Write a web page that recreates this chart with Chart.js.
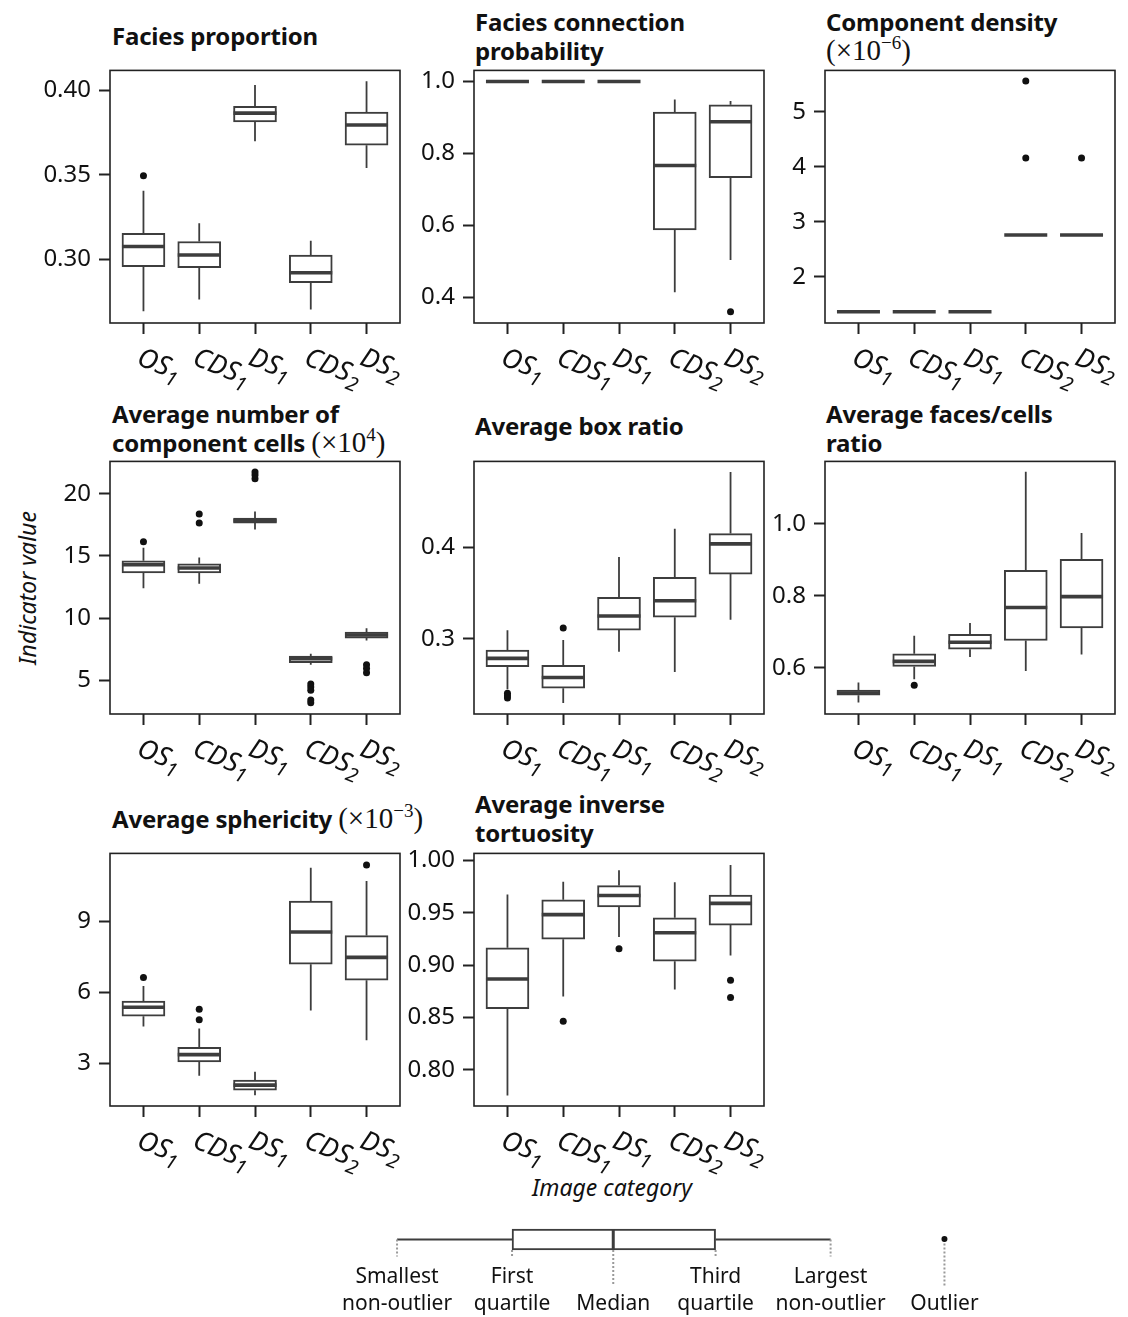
<!DOCTYPE html>
<html>
<head>
<meta charset="utf-8">
<script src="https://cdn.jsdelivr.net/npm/chart.js@4.4.0/dist/chart.umd.min.js"></script>
<style>
  body { margin: 0; width: 1128px; height: 1317px; background: #fff; position: relative; overflow: hidden; font-family: 'Noto Sans', sans-serif; color: #111; }
  canvas { position: absolute; }
  .title { position: absolute; font-family: 'Noto Sans', sans-serif; font-weight: bold; font-size: 24px; line-height: 28.5px; color: #111; white-space: nowrap; letter-spacing: -0.2px; }
  .m { font-family: 'Liberation Serif', serif; font-weight: normal; font-size: 29px; line-height: 0; letter-spacing: 0; }
  .m sup { font-size: 19px; line-height: 0; vertical-align: 11px; }
  .axis-label { position: absolute; font-style: italic; font-size: 23px; white-space: nowrap; }
</style>
</head>
<body>

<div class="title" style="left:112px;top:21.5px">Facies proportion</div>
<div class="title" style="left:475px;top:8px">Facies connection<br>probability</div>
<div class="title" style="left:826px;top:8px">Component density<br><span class="m">(×10<sup>−6</sup>)</span></div>
<div class="title" style="left:112px;top:400px">Average number of<br>component cells <span class="m">(×10<sup>4</sup>)</span></div>
<div class="title" style="left:475px;top:411.5px">Average box ratio</div>
<div class="title" style="left:826px;top:400px">Average faces/cells<br>ratio</div>
<div class="title" style="left:112px;top:805px">Average sphericity <span class="m">(×10<sup>−3</sup>)</span></div>
<div class="title" style="left:475px;top:790px">Average inverse<br>tortuosity</div>

<div class="axis-label" style="left:27px;top:588px;transform:translate(-50%,-50%) rotate(-90deg)">Indicator value</div>
<div class="axis-label" style="left:612px;top:1187px;transform:translate(-50%,-50%)">Image category</div>

<script>
// categories, last character is drawn as a subscript
const categories = ['OS1', 'CDS1', 'DS1', 'CDS2', 'DS2'];

// box statistics: whisker ends, quartiles, median, outliers
const faciesProportion = {
  low:    [0.269, 0.276, 0.370, 0.270, 0.354],
  q1:     [0.2955, 0.2949, 0.3814, 0.2859, 0.3676],
  median: [0.3074, 0.3024, 0.3866, 0.2918, 0.3796],
  q3:     [0.3153, 0.3104, 0.3906, 0.3024, 0.3872],
  high:   [0.3406, 0.3212, 0.4033, 0.3108, 0.4055],
  outliers: [[0.3494], [], [], [], []]
};
const faciesConnection = {
  low:    [1, 1, 1, 0.413, 0.503],
  q1:     [1, 1, 1, 0.587, 0.732],
  median: [1, 1, 1, 0.766, 0.888],
  q3:     [1, 1, 1, 0.915, 0.935],
  high:   [1, 1, 1, 0.950, 0.946],
  outliers: [[], [], [], [], [0.359]]
};
const componentDensity = {
  low:    [1.365, 1.365, 1.365, 2.76, 2.76],
  q1:     [1.365, 1.365, 1.365, 2.76, 2.76],
  median: [1.365, 1.365, 1.365, 2.76, 2.76],
  q3:     [1.365, 1.365, 1.365, 2.76, 2.76],
  high:   [1.365, 1.365, 1.365, 2.76, 2.76],
  outliers: [[], [], [], [5.558, 4.16], [4.16]]
};
const componentCells = {
  low:    [12.4, 12.75, 17.12, 6.24, 8.2],
  q1:     [13.63, 13.63, 17.64, 6.4, 8.39],
  median: [14.29, 14.02, 17.83, 6.72, 8.63],
  q3:     [14.6, 14.37, 18.04, 6.93, 8.87],
  high:   [15.66, 14.87, 18.57, 7.12, 9.18],
  outliers: [[16.13], [17.64, 18.36], [21.2, 21.5, 21.75], [4.7, 4.45, 4.2, 3.4, 3.18], [6.25, 5.95, 5.6]]
};
const boxRatio = {
  low:    [0.245, 0.230, 0.286, 0.264, 0.321],
  q1:     [0.2698, 0.2461, 0.3097, 0.3237, 0.3709],
  median: [0.2788, 0.2579, 0.3251, 0.3417, 0.4039],
  q3:     [0.2878, 0.2712, 0.3456, 0.3672, 0.4151],
  high:   [0.3094, 0.2989, 0.3895, 0.4205, 0.4823],
  outliers: [[0.2407, 0.238, 0.2356], [0.3119], [], [], []]
};
const facesCells = {
  low:    [0.504, 0.568, 0.630, 0.591, 0.637],
  q1:     [0.524, 0.604, 0.652, 0.676, 0.711],
  median: [0.530, 0.618, 0.671, 0.768, 0.798],
  q3:     [0.538, 0.639, 0.693, 0.871, 0.902],
  high:   [0.559, 0.689, 0.725, 1.145, 0.975],
  outliers: [[], [0.5514], [], [], []]
};
const sphericity = {
  low:    [4.55, 2.47, 1.64, 5.22, 3.97],
  q1:     [4.98, 3.05, 1.86, 7.18, 6.5],
  median: [5.36, 3.36, 2.07, 8.54, 7.47],
  q3:     [5.62, 3.67, 2.28, 9.85, 8.39],
  high:   [6.26, 4.46, 2.64, 11.25, 10.69],
  outliers: [[6.62], [5.28, 4.83], [], [], [11.37]]
};
const inverseTortuosity = {
  low:    [0.7755, 0.8701, 0.927, 0.8767, 0.9094],
  q1:     [0.8585, 0.9248, 0.9557, 0.9038, 0.9384],
  median: [0.8868, 0.9484, 0.9667, 0.9311, 0.9591],
  q3:     [0.9167, 0.9626, 0.9761, 0.9453, 0.967],
  high:   [0.9676, 0.9799, 0.9909, 0.9792, 0.9959],
  outliers: [[], [0.8465], [0.9158], [], [0.8856, 0.8692]]
};

// y tick labels per panel
const propTicks = ['0.30', '0.35', '0.40'];
const connTicks = ['0.4', '0.6', '0.8', '1.0'];
const densTicks = ['2', '3', '4', '5'];
const cellTicks = ['5', '10', '15', '20'];
const boxTicks = ['0.3', '0.4'];
const facesTicks = ['0.6', '0.8', '1.0'];
const spherTicks = ['3', '6', '9'];
const tortTicks = ['0.80', '0.85', '0.90', '0.95', '1.00'];

// legend example box
const legendStats = [1, 2, 2.88, 3.77, 4.77, 5.76]; // low, q1, median, q3, high, outlier
const legendLabels = [['Smallest', 'non-outlier'], ['First', 'quartile'], ['', 'Median'], ['Third', 'quartile'], ['Largest', 'non-outlier'], ['', 'Outlier']];

const boxColor = '#3d3d3d';
const axisColor = '#222';
const colLeft = [110, 474, 825];
const rowTop = [68, 459, 851];

const panels = [
  { stats: faciesProportion, ticks: propTicks, range: [0.262, 0.412], col: 0, row: 0 },
  { stats: faciesConnection, ticks: connTicks, range: [0.3276, 1.031], col: 1, row: 0 },
  { stats: componentDensity, ticks: densTicks, range: [1.162, 5.75], col: 2, row: 0 },
  { stats: componentCells, ticks: cellTicks, range: [2.28, 22.6], col: 0, row: 1 },
  { stats: boxRatio, ticks: boxTicks, range: [0.218, 0.494], col: 1, row: 1 },
  { stats: facesCells, ticks: facesTicks, range: [0.4717, 1.174], col: 2, row: 1 },
  { stats: sphericity, ticks: spherTicks, range: [1.19, 11.86], col: 0, row: 2 },
  { stats: inverseTortuosity, ticks: tortTicks, range: [0.7654, 1.0069], col: 1, row: 2 }
];

function boxPlugin(p) {
  return {
    id: 'boxes',
    afterDraw(chart) {
      const ctx = chart.ctx, xs = chart.scales.x, ys = chart.scales.y, s = p.stats;
      const a = chart.chartArea;
      const bars = chart.getDatasetMeta(0).data;
      ctx.save();
      ctx.strokeStyle = boxColor;
      categories.forEach((c, i) => {
        const x = xs.getPixelForValue(i);
        const half = bars[i].width / 2;
        ctx.lineWidth = 1.8;
        ctx.beginPath();
        if (s.high[i] > s.q3[i]) {
          ctx.moveTo(x, ys.getPixelForValue(s.q3[i]));
          ctx.lineTo(x, ys.getPixelForValue(s.high[i]));
        }
        if (s.low[i] < s.q1[i]) {
          ctx.moveTo(x, ys.getPixelForValue(s.q1[i]));
          ctx.lineTo(x, ys.getPixelForValue(s.low[i]));
        }
        ctx.stroke();
        const my = ys.getPixelForValue(s.median[i]);
        ctx.lineWidth = 3.6;
        ctx.beginPath();
        ctx.moveTo(x - half, my);
        ctx.lineTo(x + half, my);
        ctx.stroke();
      });
      ctx.strokeStyle = axisColor;
      ctx.lineWidth = 1.6;
      ctx.strokeRect(a.left, a.top, a.right - a.left, a.bottom - a.top);

      // rotated italic category labels with subscript
      ctx.fillStyle = '#111';
      ctx.textAlign = 'left';
      ctx.textBaseline = 'alphabetic';
      categories.forEach((c, i) => {
        const x = xs.getPixelForValue(i);
        const main = c.slice(0, -1), sub = c.slice(-1);
        ctx.save();
        ctx.translate(x - 8, a.bottom + 41);
        ctx.rotate(22 * Math.PI / 180);
        ctx.font = 'italic 27px "Noto Sans"';
        ctx.fillText(main, 0, 0);
        const w = ctx.measureText(main).width;
        ctx.font = 'italic 20px "Noto Sans"';
        ctx.fillText(sub, w, 7);
        ctx.restore();
      });
      ctx.restore();
    }
  };
}

function makePanel(p) {
  const canvas = document.createElement('canvas');
  canvas.width = 402;
  canvas.height = 350;
  canvas.style.left = (colLeft[p.col] - 100) + 'px';
  canvas.style.top = (rowTop[p.row] - 20) + 'px';
  document.body.appendChild(canvas);
  const s = p.stats;
  const boxes = categories.map((c, i) => ({ x: i, y: [s.q1[i], s.q3[i]] }));
  const points = [];
  s.outliers.forEach((list, i) => list.forEach(v => points.push({ x: i, y: v })));
  const grid = { offset: false, drawOnChartArea: false, drawTicks: true, tickLength: 11, tickWidth: 2, tickColor: axisColor };
  new Chart(canvas, {
    type: 'bar',
    data: {
      datasets: [
        { type: 'bar', data: boxes, backgroundColor: '#fff', borderColor: boxColor, borderWidth: 2, borderSkipped: false, barThickness: 43 },
        { type: 'scatter', data: points, pointRadius: 3.5, backgroundColor: '#111', borderWidth: 0 }
      ]
    },
    options: {
      responsive: false,
      animation: false,
      events: [],
      layout: { padding: { left: 0, top: 20, right: 12, bottom: 0 } },
      plugins: { legend: { display: false }, tooltip: { enabled: false } },
      scales: {
        x: {
          type: 'linear', min: -0.6, max: 4.6, offset: false,
          afterBuildTicks: sc => { sc.ticks = categories.map((c, i) => ({ value: i })); },
          afterFit: sc => { sc.height = 75; },
          ticks: { display: false },
          grid: grid,
          border: { display: false }
        },
        y: {
          type: 'linear', min: p.range[0], max: p.range[1],
          afterBuildTicks: sc => { sc.ticks = p.ticks.map(t => ({ value: parseFloat(t) })); },
          afterFit: sc => { sc.width = 100; },
          ticks: { callback: (v, i) => p.ticks[i], font: { family: 'Noto Sans', size: 24 }, color: '#111', padding: 8 },
          grid: grid,
          border: { display: false }
        }
      }
    },
    plugins: [boxPlugin(p)]
  });
}

panels.forEach(makePanel);

// legend: one horizontal example box with explanatory labels
const legendPlugin = {
  id: 'legendBox',
  afterDraw(chart) {
    const ctx = chart.ctx, xs = chart.scales.x;
    const bar = chart.getDatasetMeta(0).data[0];
    const cy = bar.y, h = bar.height / 2;
    const px = legendStats.map(v => xs.getPixelForValue(v));
    ctx.save();
    ctx.strokeStyle = boxColor;
    ctx.lineWidth = 2;
    ctx.beginPath();
    ctx.moveTo(px[0], cy); ctx.lineTo(px[1], cy);
    ctx.moveTo(px[3], cy); ctx.lineTo(px[4], cy);
    ctx.stroke();
    ctx.lineWidth = 3;
    ctx.beginPath();
    ctx.moveTo(px[2], cy - h); ctx.lineTo(px[2], cy + h);
    ctx.stroke();
    // dotted guides
    ctx.strokeStyle = '#999';
    ctx.lineWidth = 2;
    ctx.setLineDash([2, 2]);
    const guides = [[cy, cy + 17], [cy + h, cy + 17], [cy + h, cy + 46], [cy + h, cy + 17], [cy, cy + 17], [cy, cy + 47]];
    ctx.beginPath();
    guides.forEach((g, i) => { ctx.moveTo(px[i], g[0]); ctx.lineTo(px[i], g[1]); });
    ctx.stroke();
    ctx.setLineDash([]);
    ctx.fillStyle = '#111';
    ctx.beginPath();
    ctx.arc(px[5], cy - 0.5, 3, 0, Math.PI * 2);
    ctx.fill();
    ctx.font = '21px "Noto Sans"';
    ctx.textAlign = 'center';
    ctx.textBaseline = 'alphabetic';
    legendLabels.forEach((lines, i) => {
      ctx.fillText(lines[0], px[i], cy + 43.5);
      ctx.fillText(lines[1], px[i], cy + 70.5);
    });
    ctx.restore();
  }
};

const legendCanvas = document.createElement('canvas');
legendCanvas.width = 680;
legendCanvas.height = 107;
legendCanvas.style.left = '330px';
legendCanvas.style.top = '1210px';
document.body.appendChild(legendCanvas);
new Chart(legendCanvas, {
  type: 'bar',
  data: {
    labels: [''],
    datasets: [{ data: [[legendStats[1], legendStats[3]]], backgroundColor: '#fff', borderColor: boxColor, borderWidth: 2, borderSkipped: false, barThickness: 21 }]
  },
  options: {
    indexAxis: 'y',
    responsive: false,
    animation: false,
    events: [],
    layout: { padding: { left: 0, top: 0, right: 0, bottom: 48 } },
    plugins: { legend: { display: false }, tooltip: { enabled: false } },
    scales: {
      x: { type: 'linear', min: 0.417, max: 6.33, display: false },
      y: { display: false }
    }
  },
  plugins: [legendPlugin]
});
</script>
</body>
</html>
